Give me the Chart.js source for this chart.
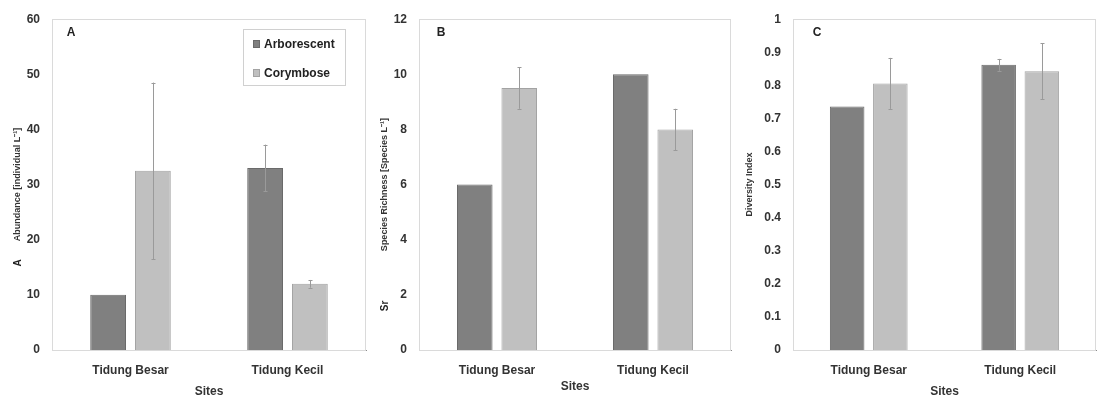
<!DOCTYPE html>
<html>
<head>
<meta charset="utf-8">
<title>Sites</title>
<style>
  html, body { margin:0; padding:0; background:#fff; }
  .wrap { position:relative; width:1097px; height:399px; }
  canvas { position:absolute; top:0; }
</style>
</head>
<body>
<div class="wrap">
  <canvas id="cA" style="left:0px" width="367" height="399"></canvas>
  <canvas id="cB" style="left:367px" width="365" height="399"></canvas>
  <canvas id="cC" style="left:732px" width="365" height="399"></canvas>
</div>
<script src="https://cdn.jsdelivr.net/npm/chart.js@4/dist/chart.umd.min.js"></script>
<script>
// data
const sites = ['Tidung Besar', 'Tidung Kecil'];
const seriesNames = ['Arborescent', 'Corymbose'];

const abundArbo = [10, 33];
const abundArboErr = [0, 4.25];
const abundCory = [32.5, 12];
const abundCoryErr = [16, 0.7];

const richArbo = [6, 10];
const richArboErr = [0, 0];
const richCory = [9.5, 8];
const richCoryErr = [0.75, 0.75];

const divArbo = [0.736, 0.862];
const divArboErr = [0, 0.018];
const divCory = [0.806, 0.843];
const divCoryErr = [0.077, 0.084];

const FONT = "'Liberation Sans', Arial, sans-serif";
const TXT = '#333';
const darkFill = '#808080', darkLine = '#6a6a6a';
const lightFill = '#c0c0c0', lightLine = '#a3a3a3';

// frame, error bars, letters, legend
const deco = {
  id: 'deco',
  beforeDatasetsDraw(chart, args, o) {
    const a = chart.chartArea, ctx = chart.ctx;
    ctx.save();
    ctx.strokeStyle = '#dadada';
    ctx.lineWidth = 1;
    ctx.strokeRect(Math.round(a.left) + 0.5, Math.round(a.top) + 0.5, Math.round(a.right - a.left) - 1, Math.round(a.bottom - a.top));
    ctx.restore();
  },
  afterDatasetsDraw(chart, args, o) {
    const ctx = chart.ctx, y = chart.scales.y;
    ctx.save();
    ctx.strokeStyle = '#9a9a9a';
    ctx.lineWidth = 1;
    chart.data.datasets.forEach((ds, i) => {
      chart.getDatasetMeta(i).data.forEach((bar, j) => {
        const e = ds.err[j];
        if (!e) return;
        const x = Math.round(bar.x) + 0.5;
        const t = y.getPixelForValue(ds.data[j] + e), b = y.getPixelForValue(ds.data[j] - e);
        ctx.beginPath();
        ctx.moveTo(x, t); ctx.lineTo(x, b);
        ctx.moveTo(x - 2, Math.round(t) + 0.5); ctx.lineTo(x + 2, Math.round(t) + 0.5);
        ctx.moveTo(x - 2, Math.round(b) + 0.5); ctx.lineTo(x + 2, Math.round(b) + 0.5);
        ctx.stroke();
      });
    });
    // panel letter
    ctx.fillStyle = '#222';
    ctx.font = 'bold 12px ' + FONT;
    ctx.textAlign = 'center';
    ctx.textBaseline = 'middle';
    ctx.fillText(o.letter, o.letterX, 33);
    // prefix of y title
    if (o.prefix) {
      ctx.save();
      ctx.translate(18, o.prefixY);
      ctx.rotate(-Math.PI / 2);
      ctx.font = 'bold 10px ' + FONT;
      ctx.fillText(o.prefix, 0, 0);
      ctx.restore();
    }
    // legend
    if (o.legend) {
      ctx.strokeStyle = '#d0d0d0';
      ctx.strokeRect(243.5, 29.5, 102, 56);
      ctx.font = 'bold 12px ' + FONT;
      ctx.textAlign = 'left';
      chart.data.datasets.forEach((ds, i) => {
        const cy = 44 + i * 29;
        ctx.fillStyle = ds.backgroundColor;
        ctx.fillRect(253, cy - 4, 7, 8);
        ctx.strokeStyle = ds.borderColor;
        ctx.strokeRect(253.5, cy - 3.5, 6, 7);
        ctx.fillStyle = '#222';
        ctx.fillText(ds.label, 264, cy + 1);
      });
    }
    ctx.restore();
  }
};

function makeChart(id, arbo, arboErr, cory, coryErr, yMax, step, yTitle, yWidth, sitesPad, opts) {
  return new Chart(document.getElementById(id), {
    type: 'bar',
    data: {
      labels: sites,
      datasets: [
        { label: seriesNames[0], data: arbo, err: arboErr, backgroundColor: darkFill, borderColor: darkLine, borderWidth: 1 },
        { label: seriesNames[1], data: cory, err: coryErr, backgroundColor: lightFill, borderColor: lightLine, borderWidth: 1 }
      ]
    },
    options: {
      responsive: false,
      animation: false,
      events: [],
      layout: { padding: { top: 15, right: 1, left: 0, bottom: 0 } },
      datasets: { bar: { categoryPercentage: 0.57, barPercentage: 0.8 } },
      plugins: { legend: { display: false }, tooltip: { enabled: false }, deco: opts },
      scales: {
        x: {
          grid: { display: false, drawTicks: false },
          border: { display: true, color: '#8c8c8c' },
          ticks: { padding: 13, color: TXT, font: { family: FONT, size: 12, weight: 'bold' } },
          title: { display: true, text: 'Sites', color: TXT, padding: { top: 0, bottom: sitesPad }, font: { family: FONT, size: 12, weight: 'bold' } },
          afterFit: s => { s.height = 49; }
        },
        y: {
          min: 0, max: yMax,
          grid: { display: false, drawTicks: false },
          border: { display: false },
          ticks: {
            stepSize: step, padding: 12, color: TXT,
            font: { family: FONT, size: 12, weight: 'bold' },
            callback: v => String(Math.round(v * 10) / 10)
          },
          title: { display: true, text: yTitle, color: TXT, padding: { top: 12, bottom: 0 }, font: { family: FONT, size: 9, weight: 'bold' } },
          afterFit: s => { s.width = yWidth; }
        }
      }
    },
    plugins: [deco]
  });
}

makeChart('cA', abundArbo, abundArboErr, abundCory, abundCoryErr, 60, 10,
  'Abundance [individual L\u207B\u00B9]', 52, 0,
  { letter: 'A', letterX: 71, prefix: 'A', prefixY: 263, legend: true });
makeChart('cB', richArbo, richArboErr, richCory, richCoryErr, 12, 2,
  'Species Richness [Species L\u207B\u00B9]', 52, 5,
  { letter: 'B', letterX: 74, prefix: 'Sr', prefixY: 306, legend: false });
makeChart('cC', divArbo, divArboErr, divCory, divCoryErr, 1, 0.1,
  'Diversity Index', 61, 0,
  { letter: 'C', letterX: 85, prefix: '', prefixY: 0, legend: false });
</script>
</body>
</html>
